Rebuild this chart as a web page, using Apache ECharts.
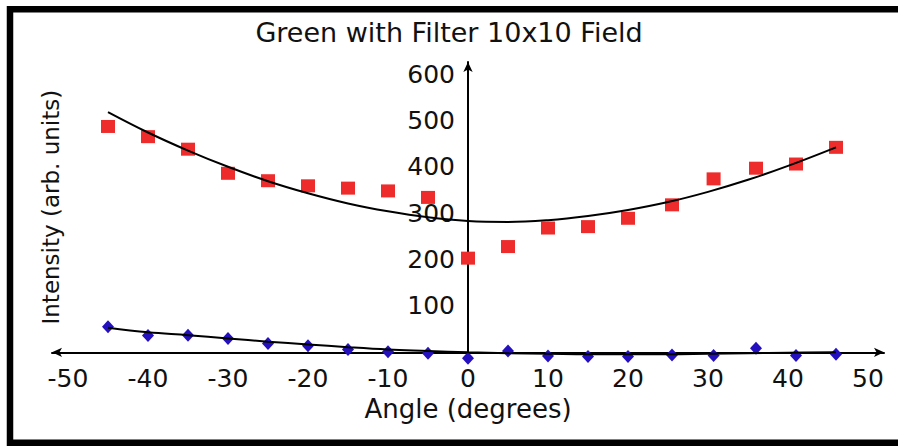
<!DOCTYPE html>
<html>
<head>
<meta charset="utf-8">
<script src="https://cdn.jsdelivr.net/npm/echarts@6/dist/echarts.min.js"></script>
<style>
html,body{margin:0;padding:0;background:#fff;}
#c{width:898px;height:446px;}
</style>
</head>
<body>
<div id="c"></div>
<script>
// ---- data ----
const angles = [-45, -40, -35, -30, -25, -20, -15, -10, -5, 0, 5, 10, 15, 20, 25.5, 30.7, 36, 41, 46];
const redIntensity = [487, 465, 438, 386, 370, 359, 354, 348, 334, 203, 228, 268, 271, 289, 318, 374, 397, 406, 442];
const blueIntensity = [55, 36, 37, 30, 19, 14, 6, 1, -2, -13, 3, -8, -9, -9, -6, -7, 9, -7, -4];

const redTrendAngles = [-45, -40, -35, -30, -25, -20, -15, -10, -5, 0, 5, 10, 15, 20, 25, 30, 35, 40, 46];
const redTrend = [518, 474, 435, 400, 369, 343, 321, 304, 291, 283, 281, 285, 294, 307, 324, 346, 372, 402, 442];
const blueTrendAngles = [-45, -40, -35, -30, -25, -20, -15, -10, -5, 0, 5, 10, 15, 20, 25, 30, 35, 40, 46];
const blueTrend = [53, 43, 37, 30, 23, 17, 11, 6, 3, 0, -2, -3, -4, -4, -4, -3, -2, -1, 0];

const xTickLabels = [-50, -40, -30, -20, -10, 0, 10, 20, 30, 40, 50];
const yTickLabels = [100, 200, 300, 400, 500, 600];

const titleText = 'Green with Filter 10x10 Field';
const xName = 'Angle (degrees)';
const yName = 'Intensity (arb. units)';

// ---- build ----
const pairs = (xs, ys) => xs.map((x, i) => [x, ys[i]]);
const FONT = 'DejaVu Sans';
const TXT = '#111';
const X_MIN = -52, X_MAX = 52;
const GRID_LEFT = 52, GRID_RIGHT = 14;

const chart = echarts.init(document.getElementById('c'), null, {renderer: 'svg'});
// place the y axis (line, labels, name) at x = 0 via offset
const plotW = 898 - GRID_LEFT - GRID_RIGHT;
const yAxisShift = (0 - X_MIN) / (X_MAX - X_MIN) * plotW;

chart.setOption({
  animation: false,
  backgroundColor: '#fff',
  title: {
    text: titleText,
    left: 'center',
    top: 19,
    padding: 0,
    textStyle: {fontFamily: FONT, fontSize: 27, fontWeight: 'normal', color: TXT}
  },
  graphic: [{
    type: 'rect',
    shape: {x: 10, y: 9.3, width: 900, height: 433.5},
    style: {fill: 'none', stroke: '#000', lineWidth: 6.5},
    silent: true, z: 100
  }],
  grid: {left: GRID_LEFT, right: GRID_RIGHT, top: 62, bottom: 93.7, containLabel: false, outerBoundsMode: 'none'},
  xAxis: {
    type: 'value',
    min: X_MIN, max: X_MAX,
    minInterval: 10, maxInterval: 10,
    name: xName,
    nameLocation: 'middle',
    nameGap: 44,
    nameTextStyle: {fontFamily: FONT, fontSize: 26, color: TXT},
    axisLine: {onZero: true, symbol: ['arrow', 'arrow'], symbolSize: [7, 10],
               lineStyle: {color: '#000', width: 2}},
    axisTick: {show: false},
    splitLine: {show: false},
    axisLabel: {
      margin: 14,
      fontFamily: FONT, fontSize: 25, color: TXT,
      formatter: v => (xTickLabels.indexOf(v) >= 0 ? String(v) : '')
    }
  },
  yAxis: {
    type: 'value',
    min: 0, max: 626, interval: 100,
    offset: -yAxisShift,
    name: yName,
    nameLocation: 'middle',
    nameRotate: 90,
    nameGap: yAxisShift - 10,
    nameTextStyle: {fontFamily: FONT, fontSize: 23, color: TXT},
    axisLine: {onZero: false, symbol: ['none', 'arrow'], symbolSize: [7, 10],
               lineStyle: {color: '#000', width: 2}},
    axisTick: {show: false},
    splitLine: {show: false},
    axisLabel: {
      margin: 13,
      showMinLabel: false, showMaxLabel: false,
      fontFamily: FONT, fontSize: 25, color: TXT,
      formatter: v => (yTickLabels.indexOf(v) >= 0 ? String(v) : '')
    }
  },
  series: [
    {
      type: 'scatter', name: 'red',
      data: pairs(angles, redIntensity),
      symbol: 'rect', symbolSize: [14, 13],
      itemStyle: {color: '#EE2C2C', opacity: 1},
      clip: false, z: 2
    },
    {
      type: 'scatter', name: 'blue',
      data: pairs(angles, blueIntensity),
      symbol: 'diamond', symbolSize: [12, 13],
      itemStyle: {color: '#2410BE', opacity: 1},
      clip: false, z: 2
    },
    {
      type: 'line', name: 'redTrend',
      data: pairs(redTrendAngles, redTrend),
      smooth: 0.4, showSymbol: false, symbol: 'none',
      lineStyle: {color: '#000', width: 2},
      clip: false, z: 3
    },
    {
      type: 'line', name: 'blueTrend',
      data: pairs(blueTrendAngles, blueTrend),
      smooth: 0.4, showSymbol: false, symbol: 'none',
      lineStyle: {color: '#000', width: 2},
      clip: false, z: 3
    }
  ]
});
</script>
</body>
</html>
